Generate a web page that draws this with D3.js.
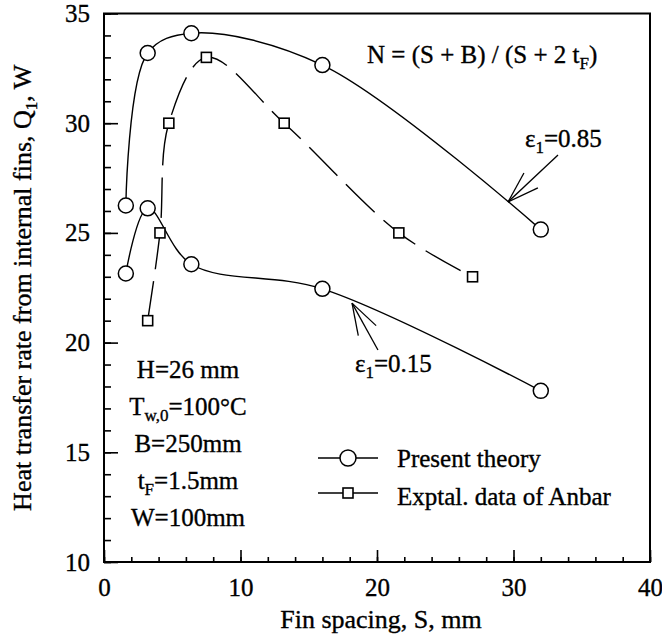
<!DOCTYPE html>
<html>
<head>
<meta charset="utf-8">
<script src="https://cdn.jsdelivr.net/npm/d3@7"></script>
<style>
  body { margin: 0; background: #fff; }
  text { font-family: "Liberation Serif", "Times New Roman", serif; fill: #000; stroke: #000; stroke-width: 0.35px; }
</style>
</head>
<body>
<svg id="chart"></svg>
<script>
// values
const theoryS = [1.6, 3.2, 6.4, 16, 32];
const theoryHigh = [26.25, 33.2, 34.1, 32.65, 25.15];   // eps1 = 0.85
const theoryLow = [23.15, 26.12, 23.57, 22.45, 17.8];   // eps1 = 0.15
const anbarS = [3.2, 4.1, 4.75, 7.5, 13.2, 21.6, 27];
const anbarQ = [21, 25, 30, 33, 30, 25, 23];
const xMajor = [0, 10, 20, 30, 40];
const yMajor = [10, 15, 20, 25, 30, 35];
const legendNames = ["Present theory", "Exptal. data of Anbar"];

const W = 662, H = 641;
const margin = {top: 13.5, right: 12, bottom: 79, left: 104};
const width = W - margin.left - margin.right;
const height = H - margin.top - margin.bottom;

const svg = d3.select('#chart').attr('width', W).attr('height', H);
const chart = svg.append('g').attr('transform', `translate(${margin.left},${margin.top})`);

const x = d3.scaleLinear().domain([0, 40]).range([0, width]);
const y = d3.scaleLinear().domain([10, 35]).range([height, 0]);

// minor + major ticks, pointing inward
const xAxisMinor = d3.axisBottom(x).tickValues(d3.range(0, 41, 2)).tickSize(-5).tickSizeOuter(0).tickFormat('');
const xAxisMajor = d3.axisBottom(x).tickValues(xMajor).tickSize(-12).tickSizeOuter(0).tickPadding(16);
const yAxisMinor = d3.axisLeft(y).tickValues(d3.range(10, 36, 1)).tickSize(-7).tickSizeOuter(0).tickFormat('');
const yAxisMajor = d3.axisLeft(y).tickValues(yMajor).tickSize(-14).tickSizeOuter(0).tickPadding(14);

[xAxisMinor, xAxisMajor].forEach(ax => {
  chart.append('g').attr('transform', `translate(0,${height})`).call(ax);
});
[yAxisMinor, yAxisMajor].forEach(ax => {
  chart.append('g').call(ax);
});
chart.selectAll('.domain').remove();
chart.selectAll('.tick line').attr('stroke', '#000').attr('stroke-width', 1.6);
chart.selectAll('.tick text')
  .style('font-family', '"Liberation Serif", serif')
  .style('font-size', '25px')
  .attr('fill', '#000');

// frame
chart.append('rect')
  .attr('width', width).attr('height', height)
  .attr('fill', 'none').attr('stroke', '#000').attr('stroke-width', 2);

// axis titles
svg.append('text')
  .attr('x', margin.left + width / 2 + 4).attr('y', 628)
  .attr('text-anchor', 'middle').style('font-size', '26px')
  .text('Fin spacing, S, mm');

const yt = svg.append('text')
  .attr('transform', `translate(31,${margin.top + height / 2}) rotate(-90)`)
  .attr('text-anchor', 'middle').style('font-size', '26px');
yt.append('tspan').text('Heat transfer rate from internal fins, Q');
yt.append('tspan').attr('dy', 6).style('font-size', '17px').text('1');
yt.append('tspan').attr('dy', -6).text(', W');

// curves
const smooth = d3.line().curve(d3.curveCatmullRom.alpha(0.5))
  .x(d => x(d[0])).y(d => y(d[1]));

const highPts = theoryS.map((s, i) => [s, theoryHigh[i]]);
const lowPts = theoryS.map((s, i) => [s, theoryLow[i]]);
const anbarPts = anbarS.map((s, i) => [s, anbarQ[i]]);

chart.append('path').datum(highPts).attr('d', smooth)
  .attr('fill', 'none').attr('stroke', '#000').attr('stroke-width', 1.4);
chart.append('path').datum(lowPts).attr('d', smooth)
  .attr('fill', 'none').attr('stroke', '#000').attr('stroke-width', 1.4);
chart.append('path').datum(anbarPts).attr('d', smooth)
  .attr('fill', 'none').attr('stroke', '#000').attr('stroke-width', 1.4)
  .attr('stroke-dasharray', '40,12');

// markers
chart.selectAll('circle.pt').data(highPts.concat(lowPts)).join('circle')
  .attr('class', 'pt')
  .attr('cx', d => x(d[0])).attr('cy', d => y(d[1])).attr('r', 7.5)
  .attr('fill', '#fff').attr('stroke', '#000').attr('stroke-width', 1.5);

const sq = 10;
chart.selectAll('rect.pt').data(anbarPts).join('rect')
  .attr('class', 'pt')
  .attr('x', d => x(d[0]) - sq / 2).attr('y', d => y(d[1]) - sq / 2)
  .attr('width', sq).attr('height', sq)
  .attr('fill', '#fff').attr('stroke', '#000').attr('stroke-width', 1.6);

// arrows pointing to the curves
function arrow(from, tip) {
  const x0 = x(from[0]), y0 = y(from[1]), x1 = x(tip[0]), y1 = y(tip[1]);
  const ang = Math.atan2(y0 - y1, x0 - x1);
  const len = 33, spread = 18 * Math.PI / 180;
  const g = chart.append('g').attr('stroke', '#000').attr('stroke-width', 1.3).attr('fill', 'none');
  g.append('line').attr('x1', x0).attr('y1', y0).attr('x2', x1).attr('y2', y1);
  [-spread, spread].forEach(a => {
    g.append('line').attr('x1', x1).attr('y1', y1)
      .attr('x2', x1 + len * Math.cos(ang + a)).attr('y2', y1 + len * Math.sin(ang + a));
  });
}
arrow([33.26, 28.55], [29.6, 26.41]);
arrow([20.07, 19.66], [18.17, 21.8]);

// text with subscripts: segments of [text, kind]
function richText(px, py, parts, size, anchor) {
  const t = svg.append('text').attr('x', px).attr('y', py)
    .attr('text-anchor', anchor || 'start').style('font-size', size + 'px');
  let shift = 0;
  parts.forEach(([s, kind]) => {
    const target = kind === 'sub' ? 6 : 0;
    const sp = t.append('tspan').attr('dy', target - shift).text(s);
    if (kind === 'sub') sp.style('font-size', Math.round(size * 0.68) + 'px');
    shift = target;
  });
  return t;
}

richText(525, 147, [['ε'], ['1', 'sub'], ['=0.85']], 25);
richText(355, 372, [['ε'], ['1', 'sub'], ['=0.15']], 25);
richText(367, 63, [['N = (S + B) / (S + 2 t'], ['F', 'sub'], [')']], 25);

const params = [
  [['H=26 mm']],
  [['T'], ['w,0', 'sub'], ['=100°C']],
  [['B=250mm']],
  [['t'], ['F', 'sub'], ['=1.5mm']],
  [['W=100mm']]
];
params.forEach((p, i) => richText(188, 378 + i * 37, p, 25, 'middle'));

// legend
const lg = svg.append('g');
legendNames.forEach((name, i) => {
  const ly = 458 + i * 35;
  lg.append('line').attr('x1', 318).attr('x2', 378).attr('y1', ly).attr('y2', ly)
    .attr('stroke', '#000').attr('stroke-width', 1.5);
  if (i === 0) {
    lg.append('circle').attr('cx', 348).attr('cy', ly).attr('r', 8)
      .attr('fill', '#fff').attr('stroke', '#000').attr('stroke-width', 1.5);
  } else {
    lg.append('rect').attr('x', 343).attr('y', ly - 5).attr('width', 10).attr('height', 10)
      .attr('fill', '#fff').attr('stroke', '#000').attr('stroke-width', 1.6);
  }
  lg.append('text').attr('x', 397).attr('y', 467 + i * 38).style('font-size', '25px').text(name);
});
</script>
</body>
</html>
